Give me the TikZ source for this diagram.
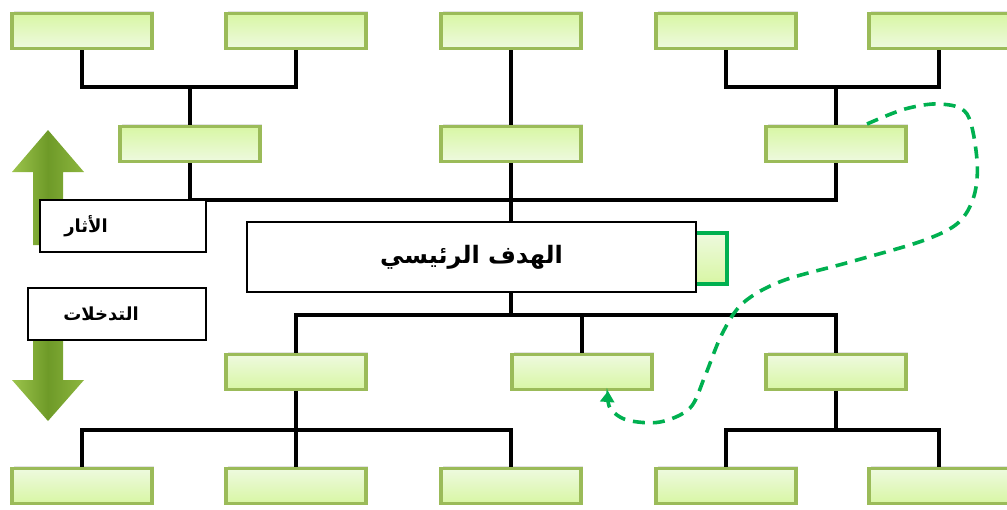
\documentclass[tikz,border=0pt]{standalone}
\usepackage{fontspec}
\newfontfamily\arabicfont[Script=Arabic]{DejaVu Sans}
\TeXXeTstate=1
\usetikzlibrary{shadows,arrows.meta}
\definecolor{boxborder}{HTML}{9BBB59}
\definecolor{boxdark}{HTML}{D8F6A4}
\definecolor{boxlight}{HTML}{EEFADF}
\definecolor{dashgreen}{HTML}{00B050}
\definecolor{arrL}{HTML}{9CC44C}
\definecolor{arrM}{HTML}{6E9A28}
\definecolor{arrR}{HTML}{8DB63F}
\begin{document}
\begin{tikzpicture}[x=1pt,y=-1pt,
  gbox/.style={draw=boxborder,line width=3.2pt,minimum width=140pt,minimum height=35pt,inner sep=0pt,
    drop shadow={opacity=0.22,shadow xshift=1.5pt,shadow yshift=3pt}},
  upbox/.style={gbox,top color=boxdark,bottom color=boxlight},
  lowbox/.style={gbox,top color=boxlight,bottom color=boxdark},
  conn/.style={line width=3.4pt,black},
  labelbox/.style={draw=black,line width=2pt,fill=white,inner sep=0pt},
  dashpath/.style={dashgreen,line width=3.6pt,dash pattern=on 12pt off 8pt}
]
\useasboundingbox (0,0) rectangle (1007,509);
% top row
\node[upbox] (t1) at (82,31) {};
\node[upbox] (t2) at (296,31) {};
\node[upbox] (t3) at (511,31) {};
\node[upbox] (t4) at (726,31) {};
\node[upbox] (t5) at (939,31) {};
% second row
\node[upbox] (a) at (190,144) {};
\node[upbox] (b) at (511,144) {};
\node[upbox] (c) at (836,144) {};
% third row
\node[lowbox] (d) at (296,372) {};
\node[lowbox] (e) at (582,372) {};
\node[lowbox] (f) at (836,372) {};
% bottom row
\node[lowbox] (b1) at (82,486) {};
\node[lowbox] (b2) at (296,486) {};
\node[lowbox] (b3) at (511,486) {};
\node[lowbox] (b4) at (726,486) {};
\node[lowbox] (b5) at (939,486) {};
% junctions
\coordinate (j1) at (190,87);
\coordinate (j3) at (836,87);
\coordinate (jm) at (511,200);
\coordinate (jl) at (511,315);
\coordinate (jb1) at (296,430);
\coordinate (jb2) at (836,430);
% connectors
\draw[conn] (t1.south) |- (j1) -| (t2.south);
\draw[conn] (j1) -- (a.north);
\draw[conn] (t4.south) |- (j3) -| (t5.south);
\draw[conn] (j3) -- (c.north);
\draw[conn] (t3.south) -- (b.north);
\draw[conn] (a.south) |- (jm) -| (c.south);
\draw[conn] (b.south) -- (jm);
% arrows on left
\path[left color=arrL,right color=arrR,middle color=arrM]
  (33,245) -- (33,172) -- (12,172) -- (48,130) -- (84,172) -- (63,172) -- (63,245) -- cycle;
\path[left color=arrL,right color=arrR,middle color=arrM]
  (33,338) -- (33,380) -- (12,380) -- (48,421) -- (84,380) -- (63,380) -- (63,338) -- cycle;
% main goal
\node[draw=dashgreen,line width=4pt,top color=boxlight,bottom color=boxdark,
  minimum width=40pt,minimum height=51pt,inner sep=0pt] (g) at (707,258) {};
\node[draw=black,line width=2pt,fill=white,minimum width=449pt,minimum height=70pt,inner sep=0pt]
  (main) at (471.5,257) {\arabicfont\bfseries\fontsize{24}{28}\selectfont\beginR الهدف الرئيسي\endR};
\draw[conn] (jm) -- (jm |- main.north);
\draw[conn] (jl |- main.south) -- (jl);
\draw[conn] (d.north) |- (jl) -| (f.north);
\draw[conn] (e.north) -- (e.north |- jl);
\draw[conn] (d.south) -- (jb1);
\draw[conn] (b1.north) |- (jb1) -| (b3.north);
\draw[conn] (jb1) -- (b2.north);
\draw[conn] (f.south) -- (jb2);
\draw[conn] (b4.north) |- (jb2) -| (b5.north);
% side labels
\node[labelbox,minimum width=166pt,minimum height=52pt] (effects) at (123,226)
  {\hspace*{-74pt}\arabicfont\bfseries\fontsize{18}{20}\selectfont\beginR الأثار\endR};
\node[labelbox,minimum width=178pt,minimum height=52pt] (inputs) at (117,314)
  {\hspace*{-32pt}\arabicfont\bfseries\fontsize{18}{20}\selectfont\beginR التدخلات\endR};
% dashed feedback loop
\coordinate (loopstart) at (867,124);
\draw[dashpath,-{Triangle[length=11pt,width=14pt]}] plot[smooth,tension=0.55] coordinates {
  (loopstart) (905,109) (940,104) (967,114) (977,160) (974,196) (958,223) (922,241)
  (850,262) (782,281) (743,303) (722,334) (705,376) (690,408) (660,422) (627,420) (610,408) (608,391)};
\end{tikzpicture}
\end{document}
